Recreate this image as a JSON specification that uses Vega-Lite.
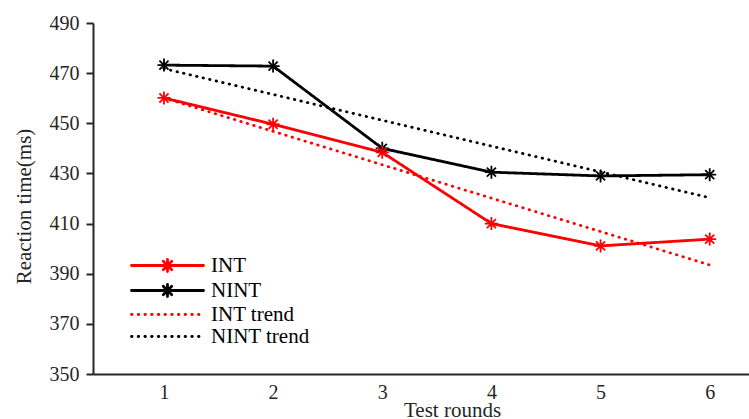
{
  "$schema": "https://vega.github.io/schema/vega-lite/v6.json",
  "width": 656,
  "height": 351,
  "autosize": {"type": "none"},
  "padding": {"left": 93, "top": 23, "right": 0, "bottom": 45},
  "config": {
    "view": {"stroke": null},
    "font": "Liberation Serif",
    "axis": {"grid": false, "domainColor": "#262626", "domainWidth": 2, "tickColor": "#262626", "tickWidth": 2, "labelColor": "#262626", "titleColor": "#262626", "labelFont": "Liberation Serif", "titleFont": "Liberation Serif", "titleFontWeight": "normal"},
    "legend": {"labelFont": "Liberation Serif"}
  },
  "data": {"values": [
    {"round": 1, "time": 473.2, "series": "NINT"},
    {"round": 2, "time": 472.8, "series": "NINT"},
    {"round": 3, "time": 440.0, "series": "NINT"},
    {"round": 4, "time": 430.5, "series": "NINT"},
    {"round": 5, "time": 429.0, "series": "NINT"},
    {"round": 6, "time": 429.5, "series": "NINT"},
    {"round": 1, "time": 471.8, "series": "NINT trend"},
    {"round": 6, "time": 420.3, "series": "NINT trend"},
    {"round": 1, "time": 460.1, "series": "INT trend"},
    {"round": 6, "time": 393.5, "series": "INT trend"},
    {"round": 1, "time": 460.1, "series": "INT"},
    {"round": 2, "time": 449.6, "series": "INT"},
    {"round": 3, "time": 438.4, "series": "INT"},
    {"round": 4, "time": 410.0, "series": "INT"},
    {"round": 5, "time": 401.1, "series": "INT"},
    {"round": 6, "time": 403.8, "series": "INT"}
  ]},
  "encoding": {
    "x": {"field": "round", "type": "quantitative", "scale": {"domain": [0.35, 6.36], "nice": false, "zero": false},
      "axis": {"values": [1, 2, 3, 4, 5, 6], "format": "d", "ticks": false, "labelFontSize": 20, "labelPadding": 8, "title": "Test rounds", "titleFontSize": 21, "titleX": 359, "titleY": 42, "titleBaseline": "alphabetic"}},
    "y": {"field": "time", "type": "quantitative", "scale": {"domain": [350, 490], "nice": false, "zero": false},
      "axis": {"values": [350, 370, 390, 410, 430, 450, 470, 490], "tickSize": 7, "labelFontSize": 20, "labelPadding": 7, "title": "Reaction time(ms)", "titleFontSize": 21, "titleX": -59, "titleY": 183}}
  },
  "layer": [
    {
      "mark": {"type": "line", "strokeWidth": 2.8, "strokeCap": "round", "strokeJoin": "round"},
      "encoding": {
        "color": {"field": "series", "type": "nominal",
          "scale": {"domain": ["INT", "NINT", "INT trend", "NINT trend"], "range": ["#ff0000", "#000000", "#ff0000", "#000000"]},
          "legend": {"title": null, "orient": "none", "legendX": 64, "legendY": 232, "padding": 0, "symbolSize": 144, "symbolStrokeWidth": 2.8, "symbolOffset": 0, "labelOffset": 33, "labelFontSize": 21, "labelColor": "#000000", "rowPadding": 0,
            "encode": {"symbols": {"update": {
              "shape": {"signal": "indexof(datum.value, 'trend') >= 0 ? 'M-6,0L6,0' : 'M-6,0L6,0M0,-1L0,1M-0.7,-0.7L0.7,0.7M-0.7,0.7L0.7,-0.7'"},
              "strokeCap": {"value": "round"}
            }}}}},
        "strokeDash": {"field": "series", "type": "nominal",
          "scale": {"domain": ["INT", "NINT", "INT trend", "NINT trend"], "range": [[1, 0], [1, 0], [0.5, 6.2], [0.5, 6.2]]},
          "legend": null}
      }
    },
    {
      "transform": [{"filter": "datum.series === 'NINT'"}],
      "mark": {"type": "point", "filled": false, "color": "#000000", "strokeWidth": 1.8, "size": 169, "opacity": 1,
        "shape": "M-1,0L1,0M0,-1L0,1M-0.7,-0.7L0.7,0.7M-0.7,0.7L0.7,-0.7"}
    },
    {
      "transform": [{"filter": "datum.series === 'INT'"}],
      "mark": {"type": "point", "filled": false, "color": "#ff0000", "strokeWidth": 1.8, "size": 169, "opacity": 1,
        "shape": "M-1,0L1,0M0,-1L0,1M-0.7,-0.7L0.7,0.7M-0.7,0.7L0.7,-0.7"}
    }
  ]
}
